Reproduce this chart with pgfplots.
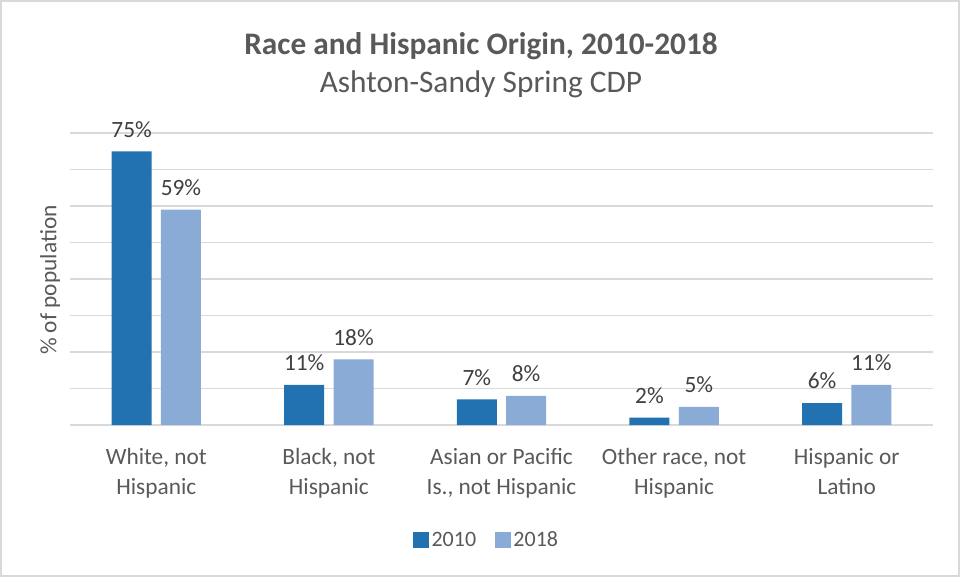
\documentclass[border=0pt]{standalone}
\usepackage{pgfplots}
\pgfplotsset{compat=1.18}
\usepackage{fontspec}
\setmainfont{Carlito}
\definecolor{dark2010}{HTML}{2271B1}
\definecolor{light2018}{HTML}{8AABD6}
\definecolor{gridgray}{HTML}{D9D9D9}
\definecolor{txtgray}{HTML}{595959}
\definecolor{lblgray}{HTML}{404040}
\begin{document}
\begin{tikzpicture}
% chart frame, 961x578 px at 0.75pt per px
\path[use as bounding box] (-52.5pt,-114.75pt) rectangle (668.25pt,318.75pt);
\draw[gridgray, line width=1pt] (-51.75pt,-113.25pt) rectangle (666.75pt,318pt);
\node[txtgray, font=\fontsize{23.5}{28}\selectfont\bfseries] at (308.25pt,284.25pt) {Race and Hispanic Origin, 2010-2018};
\node[txtgray, font=\fontsize{23.5}{28}\selectfont] at (308.25pt,255.75pt) {Ashton-Sandy Spring CDP};
\begin{axis}[
    at={(0,0)}, anchor=south west,
    scale only axis,
    width=647.25pt, height=219pt,
    ybar=7pt, bar width=30pt,
    xmin=-0.5, xmax=4.5,
    ymin=0, ymax=80,
    xtick=data,
    xticklabels={{White, not\\Hispanic},{Black, not\\Hispanic},{Asian or Pacific\\Is., not Hispanic},{Other race, not\\Hispanic},{Hispanic or\\Latino}},
    xticklabel style={align=center, font=\fontsize{17.5}{22.5}\selectfont, text=txtgray, yshift=-10pt},
    ytick={0,10,...,80},
    yticklabels={},
    ymajorgrids=true,
    major grid style={gridgray, line width=1pt},
    axis line style={draw=none},
    tick style={draw=none},
    ylabel={\% of population},
    ylabel style={font=\fontsize{17.5}{21}\selectfont, text=txtgray, at={(axis description cs:-0.006,0.496)}, anchor=south},
    clip=false,
    /pgf/number format/assume math mode=true,
    nodes near coords={\pgfmathprintnumber{\pgfplotspointmeta}\%},
    every node near coord/.append style={font=\fontsize{17.5}{21}\selectfont, text=lblgray, yshift=7pt},
    legend columns=2,
    legend style={at={(0.483,-0.394)}, anchor=center, draw=none, fill=none,
        font=\fontsize{16.5}{20}\selectfont, text=txtgray,
        /tikz/every even column/.append style={column sep=12pt}},
    legend image code/.code={\fill[#1] (0pt,-6pt) rectangle (12pt,6pt);},
]
\addplot[fill=dark2010, draw=none] coordinates {(0,75) (1,11) (2,7) (3,2) (4,6)};
\addplot[fill=light2018, draw=none] coordinates {(0,59) (1,18) (2,8) (3,5) (4,11)};
\legend{2010,2018}
\end{axis}
\end{tikzpicture}
\end{document}
